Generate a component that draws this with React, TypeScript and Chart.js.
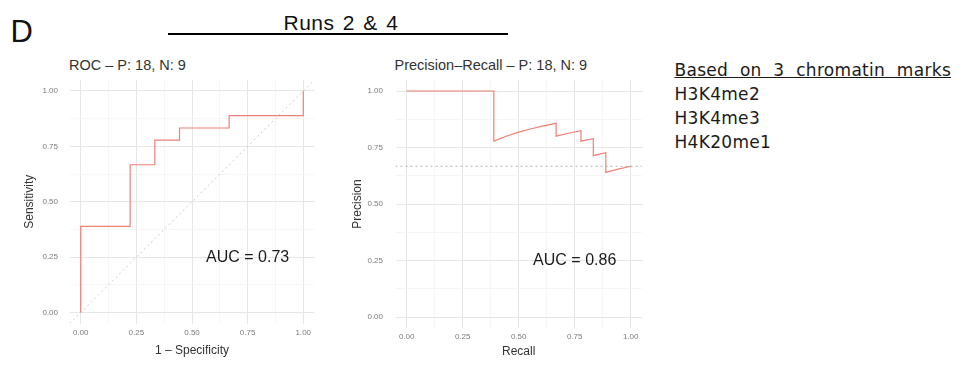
import React, { useEffect, useRef } from "react";
import { Chart, registerables } from "chart.js";

Chart.register(...registerables);

// ---- data ----
const rocFpr = [0, 0, 0.222, 0.333, 0.444, 0.667, 1.0];
const rocTpr = [0, 0.389, 0.667, 0.778, 0.833, 0.889, 1.0];

const prRecall = [0, 0.389, 0.389, 0.444, 0.5, 0.556, 0.611, 0.667, 0.667, 0.722, 0.778, 0.778, 0.833, 0.833, 0.889, 0.889, 0.944, 1.0];
const prPrecision = [1.0, 1.0, 0.778, 0.8, 0.818, 0.833, 0.846, 0.857, 0.8, 0.813, 0.824, 0.778, 0.789, 0.714, 0.727, 0.64, 0.654, 0.667];
const prBaseline = 0.667;

const majorTicks = [0, 0.25, 0.5, 0.75, 1];
const minorTicks = [0.125, 0.375, 0.625, 0.875];
const axisMin = -0.05;
const axisMax = 1.05;

const rocAuc = "0.73";
const prAuc = "0.86";
const aucAt = { x: 0.75, y: 0.25 };

const markList = ["H3K4me2", "H3K4me3", "H4K20me1"];

const FAMILY = "'Liberation Sans', Arial, Helvetica, sans-serif";
const LINE_COLOR = "#F07F74";

type Geo = {
  pad: { left: number; top: number; right: number; bottom: number };
  yWidth: number;
  xHeight: number;
  yTickPad: number;
  xTickPad: number;
  yTitlePad: number;
  xTitlePad: number;
};

const isMajor = (v: number) => majorTicks.some((t) => Math.abs(t - v) < 1e-6);

function axis(title: string, tickPad: number, titlePad: any, fit: (s: any) => void) {
  const tickValues = [...majorTicks, ...minorTicks].sort((a, b) => a - b);
  return {
    type: "linear",
    min: axisMin,
    max: axisMax,
    afterBuildTicks: (s: any) => {
      s.ticks = tickValues.map((v) => ({ value: v }));
    },
    afterFit: (s: any) => {
      fit(s);
      s.paddingTop = 0;
      s.paddingBottom = 0;
      s.paddingLeft = 0;
      s.paddingRight = 0;
    },
    border: { display: false },
    grid: {
      drawTicks: false,
      color: (ctx: any) => (ctx.tick && isMajor(ctx.tick.value) ? "#e6e6e6" : "#f2f2f2"),
      lineWidth: (ctx: any) => (ctx.tick && isMajor(ctx.tick.value) ? 1 : 0.7),
    },
    ticks: {
      padding: tickPad,
      autoSkip: false,
      maxRotation: 0,
      minRotation: 0,
      color: "#7a7a7a",
      font: { family: FAMILY, size: 8 },
      callback: (v: any) => (isMajor(Number(v)) ? Number(v).toFixed(2) : ""),
    },
    title: {
      display: true,
      text: title,
      color: "#333",
      font: { family: FAMILY, size: 12 },
      padding: titlePad,
    },
  };
}

function makeChart(
  canvas: HTMLCanvasElement,
  xs: number[],
  ys: number[],
  stepped: any,
  xTitle: string,
  yTitle: string,
  auc: string,
  ref: "diag" | "hline",
  geo: Geo
) {
  const refPlugin = {
    id: "refLines",
    beforeDatasetsDraw(chart: any) {
      const { ctx, chartArea, scales } = chart;
      ctx.save();
      ctx.beginPath();
      ctx.rect(chartArea.left, chartArea.top, chartArea.right - chartArea.left, chartArea.bottom - chartArea.top);
      ctx.clip();
      ctx.setLineDash([2, 3]);
      ctx.lineWidth = 1;
      ctx.beginPath();
      if (ref === "diag") {
        ctx.strokeStyle = "#c8c8c8";
        ctx.moveTo(scales.x.getPixelForValue(axisMin), scales.y.getPixelForValue(axisMin));
        ctx.lineTo(scales.x.getPixelForValue(axisMax), scales.y.getPixelForValue(axisMax));
      } else {
        ctx.strokeStyle = "#b0b0b0";
        const py = scales.y.getPixelForValue(prBaseline);
        ctx.moveTo(chartArea.left, py);
        ctx.lineTo(chartArea.right, py);
      }
      ctx.stroke();
      ctx.restore();
    },
    afterDatasetsDraw(chart: any) {
      const { ctx, scales } = chart;
      ctx.save();
      ctx.font = `16px ${FAMILY}`;
      ctx.fillStyle = "#1a1a1a";
      ctx.textAlign = "center";
      ctx.textBaseline = "middle";
      ctx.fillText(`AUC = ${auc}`, scales.x.getPixelForValue(aucAt.x), scales.y.getPixelForValue(aucAt.y));
      ctx.restore();
    },
  };

  return new Chart(canvas, {
    type: "scatter",
    data: {
      datasets: [
        {
          data: xs.map((x, i) => ({ x, y: ys[i] })),
          showLine: true,
          stepped,
          borderColor: LINE_COLOR,
          borderWidth: 1.2,
          pointRadius: 0,
          fill: false,
        } as any,
      ],
    },
    options: {
      animation: false,
      responsive: false,
      devicePixelRatio: 1,
      layout: { padding: geo.pad },
      plugins: { legend: { display: false }, tooltip: { enabled: false }, title: { display: false } },
      scales: {
        x: axis(xTitle, geo.xTickPad, { top: 0, bottom: geo.xTitlePad }, (s: any) => {
          s.height = geo.xHeight;
        }) as any,
        y: axis(yTitle, geo.yTickPad, { top: geo.yTitlePad, bottom: 0 }, (s: any) => {
          s.width = geo.yWidth;
        }) as any,
      },
    },
    plugins: [refPlugin],
  });
}

export default function App() {
  const rocRef = useRef<HTMLCanvasElement>(null);
  const prRef = useRef<HTMLCanvasElement>(null);

  useEffect(() => {
    const roc = makeChart(rocRef.current!, rocFpr, rocTpr, "before", "1 \u2013 Specificity", "Sensitivity", rocAuc, "diag", {
      pad: { left: 0, top: 9.9, right: 15.6, bottom: 0 },
      yWidth: 69.6,
      xHeight: 41.4,
      yTickPad: 11.6,
      xTickPad: 4.6,
      yTitlePad: 22.8,
      xTitlePad: 7.3,
    });
    const pr = makeChart(prRef.current!, prRecall, prPrecision, false, "Recall", "Precision", prAuc, "hline", {
      pad: { left: 0, top: 9.7, right: 8.1, bottom: 0 },
      yWidth: 55.5,
      xHeight: 41.7,
      yTickPad: 12.5,
      xTickPad: 3.6,
      yTitlePad: 10.8,
      xTitlePad: 11.1,
    });
    return () => {
      roc.destroy();
      pr.destroy();
    };
  }, []);

  const abs = (s: React.CSSProperties): React.CSSProperties => ({ position: "absolute", whiteSpace: "nowrap", margin: 0, ...s });

  return (
    <div style={{ position: "absolute", left: 0, top: 0, width: 971, height: 371, background: "#fff", overflow: "hidden" }}>
      <div style={abs({ left: 10.6, top: 15.5, font: `31px ${FAMILY}`, lineHeight: "31px", color: "#111" })}>D</div>
      <div style={abs({ left: 283.5, top: 11.5, font: `21px ${FAMILY}`, lineHeight: "21px", letterSpacing: "0.5px", wordSpacing: "2px", color: "#111" })}>
        Runs 2 &amp; 4
      </div>
      <div style={abs({ left: 168, top: 33, width: 340, height: 1.5, background: "#000" })} />
      <div style={abs({ left: 69, top: 57.2, font: `14.5px ${FAMILY}`, lineHeight: "16px", color: "#333" })}>ROC – P: 18, N: 9</div>
      <div style={abs({ left: 394.5, top: 57.2, font: `14.5px ${FAMILY}`, lineHeight: "16px", color: "#333" })}>
        Precision–Recall – P: 18, N: 9
      </div>
      <canvas ref={rocRef} width={330} height={295} style={{ position: "absolute", left: 0, top: 70, width: 330, height: 295 }} />
      <canvas ref={prRef} width={310} height={300} style={{ position: "absolute", left: 340, top: 70, width: 310, height: 300 }} />
      <div
        style={abs({
          left: 674.5,
          top: 58.3,
          font: `17px 'DejaVu Sans', Verdana, sans-serif`,
          lineHeight: "24px",
          letterSpacing: "0.3px",
          wordSpacing: "6px",
          color: "#1a1a1a",
        })}
      >
        <div style={{ textDecoration: "underline" }}>Based on 3 chromatin marks</div>
        {markList.map((m) => (
          <div key={m}>{m}</div>
        ))}
      </div>
    </div>
  );
}
